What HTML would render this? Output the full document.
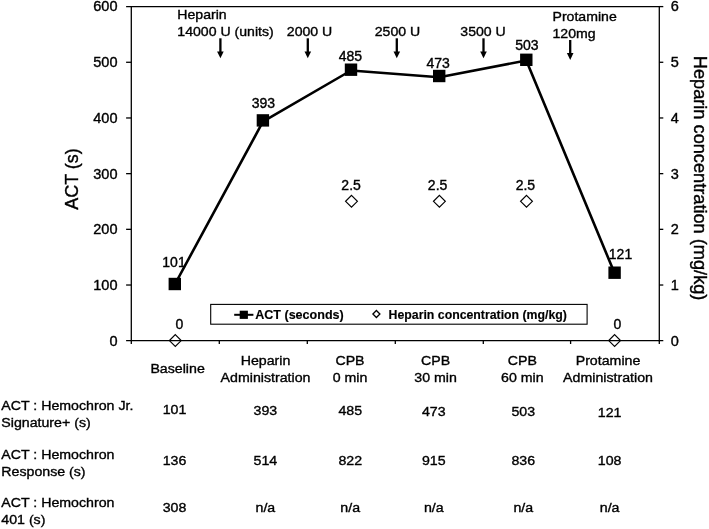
<!DOCTYPE html>
<html lang="en"><head><meta charset="utf-8"><title>ACT and heparin concentration</title>
<style>html,body{margin:0;padding:0;background:#fff;}svg{display:block;}text{font-family:"Liberation Sans", Arial, Helvetica, sans-serif;fill:#000;stroke:#000;stroke-width:0.38px;}</style></head><body>
<svg width="709" height="529" viewBox="0 0 709 529">
<rect x="0" y="0" width="709" height="529" fill="#fff"/>
<g stroke="#000" stroke-width="1.3" fill="none">
<path d="M131.3 6.1V340.7"/>
<path d="M659.3 6.1V341.2"/>
<path d="M126.10000000000001 6.6H659.3"/>
<path d="M126.10000000000001 340.7H663.3"/>
<path d="M126.10000000000001 62.28H131.3"/>
<path d="M659.3 62.28H663.3"/>
<path d="M126.10000000000001 117.97H131.3"/>
<path d="M659.3 117.97H663.3"/>
<path d="M126.10000000000001 173.65H131.3"/>
<path d="M659.3 173.65H663.3"/>
<path d="M126.10000000000001 229.33H131.3"/>
<path d="M659.3 229.33H663.3"/>
<path d="M126.10000000000001 285.02H131.3"/>
<path d="M659.3 285.02H663.3"/>
<path d="M659.3 6.6H663.3"/>
<path d="M131.30 340.7V344.0"/>
<path d="M219.30 340.7V344.0"/>
<path d="M307.30 340.7V344.0"/>
<path d="M395.30 340.7V344.0"/>
<path d="M483.30 340.7V344.0"/>
<path d="M570.60 340.7V344.0"/>
<path d="M659.30 340.7V344.0"/>
</g>
<text x="117.5" y="10.60" font-size="14.5" text-anchor="end">600</text>
<text x="117.5" y="67.18" font-size="14.5" text-anchor="end">500</text>
<text x="117.5" y="122.87" font-size="14.5" text-anchor="end">400</text>
<text x="117.5" y="178.55" font-size="14.5" text-anchor="end">300</text>
<text x="117.5" y="234.23" font-size="14.5" text-anchor="end">200</text>
<text x="117.5" y="289.92" font-size="14.5" text-anchor="end">100</text>
<text x="117.5" y="345.60" font-size="14.5" text-anchor="end">0</text>
<text x="670.8" y="10.60" font-size="14.5">6</text>
<text x="670.8" y="67.18" font-size="14.5">5</text>
<text x="670.8" y="122.87" font-size="14.5">4</text>
<text x="670.8" y="178.55" font-size="14.5">3</text>
<text x="670.8" y="234.23" font-size="14.5">2</text>
<text x="670.8" y="289.92" font-size="14.5">1</text>
<text x="670.8" y="345.60" font-size="14.5">0</text>
<text transform="translate(78.2 179) rotate(-90)" font-size="18" text-anchor="middle">ACT (s)</text>
<text transform="translate(693.9 178.1) rotate(90)" font-size="18.2" text-anchor="middle">Heparin concentration (mg/kg)</text>
<polyline fill="none" stroke="#000" stroke-width="2.6" stroke-linejoin="round" points="174.8,284.5 262.9,121.7 351.0,70.5 439.2,77.2 526.3,60.5 614.6,273.3"/>
<rect x="168.60" y="277.80" width="12.4" height="12.4" fill="#000"/>
<rect x="256.70" y="114.20" width="12.4" height="12.4" fill="#000"/>
<rect x="344.80" y="63.50" width="12.4" height="12.4" fill="#000"/>
<rect x="433.00" y="69.80" width="12.4" height="12.4" fill="#000"/>
<rect x="520.10" y="53.60" width="12.4" height="12.4" fill="#000"/>
<rect x="608.40" y="266.50" width="12.4" height="12.4" fill="#000"/>
<path d="M175.3 334.70000000000005L181.20000000000002 340.6L175.3 346.5L169.4 340.6Z" fill="none" stroke="#000" stroke-width="1.2"/>
<path d="M351.5 195.4L357.4 201.3L351.5 207.20000000000002L345.6 201.3Z" fill="#fff" stroke="#000" stroke-width="1.2"/>
<path d="M439.4 195.4L445.29999999999995 201.3L439.4 207.20000000000002L433.5 201.3Z" fill="#fff" stroke="#000" stroke-width="1.2"/>
<path d="M526.5 195.4L532.4 201.3L526.5 207.20000000000002L520.6 201.3Z" fill="#fff" stroke="#000" stroke-width="1.2"/>
<path d="M614.6 334.70000000000005L620.5 340.6L614.6 346.5L608.7 340.6Z" fill="none" stroke="#000" stroke-width="1.2"/>
<text x="174.0" y="267.0" font-size="14" text-anchor="middle">101</text>
<text x="263.4" y="107.8" font-size="14" text-anchor="middle">393</text>
<text x="350.4" y="60.8" font-size="14" text-anchor="middle">485</text>
<text x="438.1" y="67.7" font-size="14" text-anchor="middle">473</text>
<text x="526.9" y="50.2" font-size="14" text-anchor="middle">503</text>
<text x="620.5" y="258.6" font-size="14" text-anchor="middle">121</text>
<text x="179.3" y="329.2" font-size="14" text-anchor="middle">0</text>
<text x="351.1" y="190.3" font-size="14" text-anchor="middle">2.5</text>
<text x="437.6" y="190.3" font-size="14" text-anchor="middle">2.5</text>
<text x="525.4" y="190.3" font-size="14" text-anchor="middle">2.5</text>
<text x="617.4" y="329.4" font-size="14" text-anchor="middle">0</text>
<text transform="translate(177.3 19.3) scale(1 0.95)" font-size="14.1">Heparin</text>
<text transform="translate(177.3 36.3) scale(1 0.95)" font-size="14.1">14000 U (units)</text>
<text transform="translate(286.8 36.3) scale(1 0.95)" font-size="14.1">2000 U</text>
<text transform="translate(374.7 36.3) scale(1 0.95)" font-size="14.1">2500 U</text>
<text transform="translate(460.3 36.0) scale(1 0.95)" font-size="14.1">3500 U</text>
<text transform="translate(552.5 21.3) scale(1 0.95)" font-size="14.1">Protamine</text>
<text transform="translate(552.5 38.0) scale(1 0.95)" font-size="14.1">120mg</text>
<path d="M220.4 38.3V53" stroke="#000" stroke-width="2.3" fill="none"/>
<path d="M217.1 51.4H223.70000000000002L220.4 58.2Z" fill="#000"/>
<path d="M307.8 38.3V53" stroke="#000" stroke-width="2.3" fill="none"/>
<path d="M304.5 51.4H311.1L307.8 58.2Z" fill="#000"/>
<path d="M396.8 38.3V53" stroke="#000" stroke-width="2.3" fill="none"/>
<path d="M393.5 51.4H400.1L396.8 58.2Z" fill="#000"/>
<path d="M483.5 38.3V53" stroke="#000" stroke-width="2.3" fill="none"/>
<path d="M480.2 51.4H486.8L483.5 58.2Z" fill="#000"/>
<path d="M570.2 40.0V54.7" stroke="#000" stroke-width="2.3" fill="none"/>
<path d="M566.9000000000001 53.1H573.5L570.2 59.900000000000006Z" fill="#000"/>
<rect x="210.7" y="304.4" width="376.4" height="19.8" fill="#fff" stroke="#000" stroke-width="1.1"/>
<path d="M234.2 314.8H253.4" stroke="#000" stroke-width="2" fill="none"/>
<rect x="239.7" y="310.7" width="8.2" height="8.2" fill="#000"/>
<text x="255.2" y="318.6" font-size="12.55" font-weight="bold" style="stroke-width:0.15px">ACT (seconds)</text>
<path d="M376.4 310.5L379.9 314.0L376.4 317.5L372.9 314.0Z" fill="#fff" stroke="#000" stroke-width="1.3"/>
<text x="388.6" y="318.6" font-size="12.3" font-weight="bold" style="stroke-width:0.15px">Heparin concentration (mg/kg)</text>
<text transform="translate(177.6 373.0) scale(1 0.935)" font-size="14.18" text-anchor="middle">Baseline</text>
<text transform="translate(265.5 364.5) scale(1 0.935)" font-size="14.18" text-anchor="middle">Heparin</text>
<text transform="translate(265.5 382.0) scale(1 0.935)" font-size="14.18" text-anchor="middle">Administration</text>
<text transform="translate(350.0 364.5) scale(1 0.935)" font-size="14.18" text-anchor="middle">CPB</text>
<text transform="translate(350.0 381.6) scale(1 0.935)" font-size="14.18" text-anchor="middle">0 min</text>
<text transform="translate(435.6 364.5) scale(1 0.935)" font-size="14.18" text-anchor="middle">CPB</text>
<text transform="translate(435.6 381.6) scale(1 0.935)" font-size="14.18" text-anchor="middle">30 min</text>
<text transform="translate(522.3 364.5) scale(1 0.935)" font-size="14.18" text-anchor="middle">CPB</text>
<text transform="translate(522.3 381.6) scale(1 0.935)" font-size="14.18" text-anchor="middle">60 min</text>
<text transform="translate(608.0 364.5) scale(1 0.935)" font-size="14.18" text-anchor="middle">Protamine</text>
<text transform="translate(608.0 381.6) scale(1 0.935)" font-size="14.18" text-anchor="middle">Administration</text>
<text transform="translate(1.3 410.3) scale(1 0.935)" font-size="14.18">ACT : Hemochron Jr.</text>
<text transform="translate(1.3 427.2) scale(1 0.935)" font-size="14.18">Signature+ (s)</text>
<text transform="translate(1.3 459.0) scale(1 0.935)" font-size="14.18">ACT : Hemochron</text>
<text transform="translate(1.3 475.7) scale(1 0.935)" font-size="14.18">Response (s)</text>
<text transform="translate(1.3 507.4) scale(1 0.935)" font-size="14.18">ACT : Hemochron</text>
<text transform="translate(1.3 524.3) scale(1 0.935)" font-size="14.18">401 (s)</text>
<text transform="translate(174.5 414.4) scale(1 0.935)" font-size="14.18" text-anchor="middle">101</text>
<text transform="translate(265.4 415.2) scale(1 0.935)" font-size="14.18" text-anchor="middle">393</text>
<text transform="translate(350.2 415.2) scale(1 0.935)" font-size="14.18" text-anchor="middle">485</text>
<text transform="translate(433.8 415.9) scale(1 0.935)" font-size="14.18" text-anchor="middle">473</text>
<text transform="translate(523.3 415.9) scale(1 0.935)" font-size="14.18" text-anchor="middle">503</text>
<text transform="translate(609.6 416.6) scale(1 0.935)" font-size="14.18" text-anchor="middle">121</text>
<text transform="translate(174.5 464.7) scale(1 0.935)" font-size="14.18" text-anchor="middle">136</text>
<text transform="translate(265.4 464.9) scale(1 0.935)" font-size="14.18" text-anchor="middle">514</text>
<text transform="translate(350.2 464.9) scale(1 0.935)" font-size="14.18" text-anchor="middle">822</text>
<text transform="translate(433.8 465.4) scale(1 0.935)" font-size="14.18" text-anchor="middle">915</text>
<text transform="translate(523.3 465.4) scale(1 0.935)" font-size="14.18" text-anchor="middle">836</text>
<text transform="translate(609.6 465.4) scale(1 0.935)" font-size="14.18" text-anchor="middle">108</text>
<text transform="translate(174.5 511.6) scale(1 0.935)" font-size="14.18" text-anchor="middle">308</text>
<text transform="translate(265.4 511.8) scale(1 0.935)" font-size="14.18" text-anchor="middle">n/a</text>
<text transform="translate(350.2 512.0) scale(1 0.935)" font-size="14.18" text-anchor="middle">n/a</text>
<text transform="translate(433.8 512.3) scale(1 0.935)" font-size="14.18" text-anchor="middle">n/a</text>
<text transform="translate(523.3 512.3) scale(1 0.935)" font-size="14.18" text-anchor="middle">n/a</text>
<text transform="translate(609.6 512.3) scale(1 0.935)" font-size="14.18" text-anchor="middle">n/a</text>
</svg></body></html>
